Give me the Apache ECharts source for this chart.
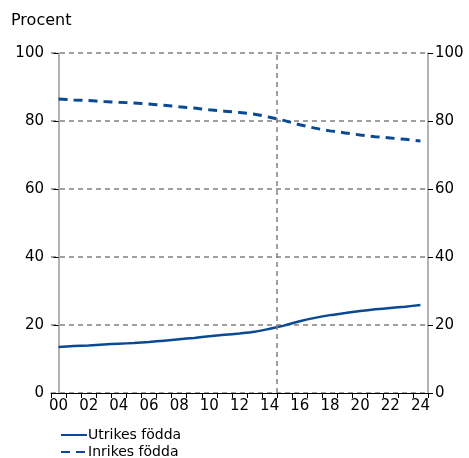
<!DOCTYPE html>
<html>
<head>
<meta charset="utf-8">
<script src="https://cdn.jsdelivr.net/npm/echarts@6/dist/echarts.min.js"></script>
<style>html,body{margin:0;padding:0;background:#fff}#c{width:469px;height:458px}</style>
</head>
<body>
<div id="c"></div>
<script>
var years = ['00','01','02','03','04','05','06','07','08','09','10','11','12','13','14','15','16','17','18','19','20','21','22','23','24'];
var utrikes = [13.5,13.8,14.0,14.3,14.5,14.7,15.0,15.4,15.8,16.2,16.7,17.1,17.5,18.0,18.9,19.9,21.1,22.1,22.9,23.5,24.1,24.6,25.0,25.4,25.9];
var inrikes = [86.5,86.2,86.0,85.7,85.5,85.3,85.0,84.6,84.2,83.8,83.3,82.9,82.5,82.0,81.1,80.1,78.9,77.9,77.1,76.5,75.9,75.4,75.0,74.6,74.1];
var yTicks = [0,20,40,60,80,100];
var splitYear = '15';

var font = 'DejaVu Sans';
var blue = '#0a4a95';
var grey = '#808080';
var splitPos = years.indexOf(splitYear) - 0.5;
var chart = echarts.init(document.getElementById('c'));
function yAxis(pos) {
  return {
    type: 'value', position: pos, min: yTicks[0], max: yTicks[yTicks.length-1], interval: 20,
    axisLine: {show: true, lineStyle: {color: '#9a9a9a', width: 1.5}},
    axisTick: {show: true, length: 5, lineStyle: {color: '#000', width: 1}},
    axisLabel: {color: '#000', fontSize: 15, fontFamily: font, margin: 7},
    splitLine: {show: pos === 'left', lineStyle: {color: grey, type: [5, 4], width: 1.5}}
  };
}
chart.setOption({
  animation: false,
  title: {text: 'Procent', left: 6, top: 8, textStyle: {fontSize: 16, fontWeight: 'normal', color: '#000', fontFamily: font}},
  grid: {left: 51, right: 41, top: 53, bottom: 65},
  legend: {
    orient: 'vertical', left: 55, top: 423, height: 40, itemGap: 3, itemWidth: 26, itemHeight: 12,
    itemStyle: {color: 'rgba(0,0,0,0)', borderColor: 'rgba(0,0,0,0)', borderWidth: 0},
    textStyle: {fontSize: 14, fontFamily: font, color: '#000', padding: [0,0,0,-4]},
    data: ['Utrikes födda', 'Inrikes födda']
  },
  xAxis: [{
    type: 'category', data: years, boundaryGap: true,
    axisLine: {lineStyle: {color: '#000', width: 1}},
    axisTick: {show: true, interval: 0, length: 5, lineStyle: {color: '#000'}},
    axisLabel: {interval: 1, color: '#000', fontSize: 15, fontFamily: font, margin: 6},
    splitLine: {show: false}
  }, {
    type: 'value', show: false, min: -0.5, max: years.length - 0.5,
    splitLine: {show: false}
  }],
  yAxis: [yAxis('left'), yAxis('right')],
  series: [
    {name: 'Utrikes födda', type: 'line', data: utrikes, smooth: 0.25, symbol: 'none', lineStyle: {color: blue, width: 2.5}, itemStyle: {color: blue}},
    {name: 'Inrikes födda', type: 'line', data: inrikes, smooth: 0.25, symbol: 'none', lineStyle: {color: blue, width: 3, type: [9, 6]}, itemStyle: {color: blue}},
    {name: 'split', type: 'line', xAxisIndex: 1, data: [], symbol: 'none',
      markLine: {silent: true, symbol: 'none', label: {show: false},
        lineStyle: {color: grey, type: [5, 4], width: 1.5},
        data: [{xAxis: splitPos}]}}
  ]
});
</script>
</body>
</html>
